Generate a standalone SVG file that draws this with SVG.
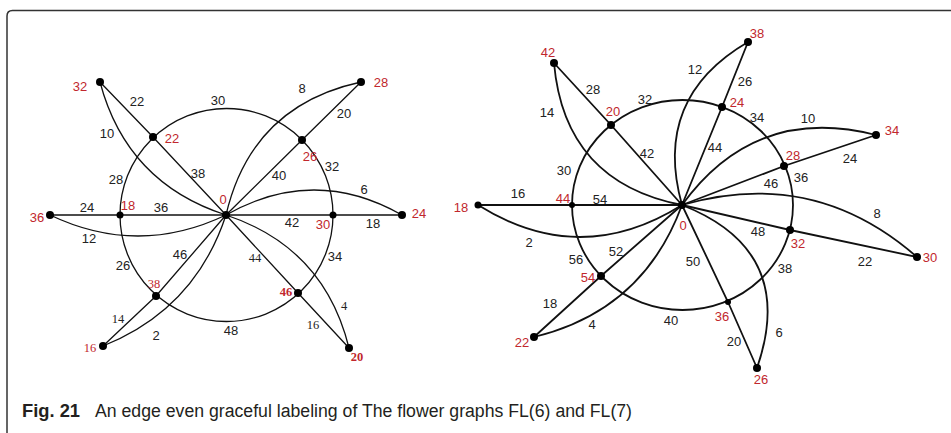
<svg xmlns="http://www.w3.org/2000/svg" width="951" height="433" viewBox="0 0 951 433">
<style>
.e{fill:none;stroke:#111;stroke-width:1.3}
.e2{fill:none;stroke:#111;stroke-width:1.8}
.n{fill:#000}
text{font-family:"Liberation Sans",Arial,sans-serif;font-size:13px;text-anchor:middle}
.k{fill:#222}
.r{fill:#c1272d}
.s{font-family:"Liberation Serif","Times New Roman",serif;font-size:12.5px}
.b{font-weight:bold}
.cap{fill:#231f20;font-size:18px;text-anchor:start}
</style>
<rect width="951" height="433" fill="#fff"/>
<path d="M7,433 L7,16 Q7,10.5 12.5,10.5 L951,10.5" fill="none" stroke="#333" stroke-width="1.5"/>

<g id="connectors-left">
<circle class="e" cx="226.5" cy="215" r="106.5"/>
<path class="e" d="M226,215 L153,137 L100,82"/>
<path class="e" d="M226,215 L302,140 L361,82"/>
<path class="e" d="M226,215 L333,215 L402,215"/>
<path class="e" d="M226,215 L298,293 L349,348"/>
<path class="e" d="M226,215 L156,296 L103,346"/>
<path class="e" d="M226,215 L120,215 L50,215"/>
<path class="e" d="M226,215 Q126.7,182.9 100,82"/>
<path class="e" d="M226,215 Q251.4,105.8 361,82"/>
<path class="e" d="M226,215 Q314,165 402,215"/>
<path class="e" d="M226,215 Q324.3,247.5 349,348"/>
<path class="e" d="M226,215 Q195.1,309.2 103,346"/>
<path class="e" d="M226,215 Q138,257 50,215"/>
</g>

<g id="connectors-right">
<ellipse class="e2" cx="682.5" cy="205" rx="110.5" ry="105"/>
<path class="e2" d="M682,205 L611,125 L554,63"/>
<path class="e2" d="M682,205 L722,107 L748,42"/>
<path class="e2" d="M682,205 L784,166 L876,135"/>
<path class="e2" d="M682,205 L790,230 L917,257"/>
<path class="e2" d="M682,205 L728,302 L757,368"/>
<path class="e2" d="M682,205 L601,276 L534,337"/>
<path class="e2" d="M682,205 L572,205 L478,205"/>
<path class="e2" d="M682,205 Q564.5,182.2 554,63"/>
<path class="e2" d="M682,205 Q652,98 748,42"/>
<path class="e2" d="M682,205 Q755.2,104.1 876,135"/>
<path class="e2" d="M682,205 Q813.8,166.6 917,257"/>
<path class="e2" d="M682,205 Q797.8,250.5 757,368"/>
<path class="e2" d="M682,205 Q643.3,310.6 534,337"/>
<path class="e2" d="M682,205 Q580,269 478,205"/>
</g>

<g id="edge-labels-left" class="k">
<text x="137" y="105.5">22</text><text x="218" y="104.5">30</text><text x="107" y="137.5">10</text>
<text x="198" y="177.5">38</text><text x="116" y="183.5">28</text><text x="87" y="211.5">24</text>
<text x="161" y="211.5">36</text><text x="302" y="92.5">8</text><text x="344" y="117.5">20</text>
<text x="332" y="170.5">32</text><text x="279" y="179.5">40</text><text x="364" y="193.5">6</text>
<text x="292" y="226.5">42</text><text x="373" y="227.5">18</text><text x="89" y="242.5">12</text>
<text x="123" y="269.5">26</text><text x="180" y="258.5">46</text><text x="156" y="339.5">2</text>
<text x="335" y="260.5">34</text><text x="231" y="334.5">48</text>
<text class="s" x="118" y="323">14</text><text class="s" x="255" y="262">44</text>
<text class="s" x="344" y="310">4</text><text class="s" x="313" y="329">16</text>
</g>

<g id="node-0-left"><circle class="n" cx="226" cy="215" r="4"/><text class="r" x="223" y="203.5">0</text></g>
<g id="node-22-left"><circle class="n" cx="153" cy="137" r="4"/><text class="r" x="172" y="142.5">22</text></g>
<g id="node-26-left"><circle class="n" cx="302" cy="140" r="4"/><text class="r" x="310" y="160.5">26</text></g>
<g id="node-30-left"><circle class="n" cx="333" cy="215" r="3.5"/><text class="r" x="323" y="228.5">30</text></g>
<g id="node-46-left"><circle class="n" cx="298" cy="293" r="4"/><text class="r s b" x="286" y="296">46</text></g>
<g id="node-38-left"><circle class="n" cx="156" cy="296" r="4"/><text class="r s" x="154" y="287.5">38</text></g>
<g id="node-18-left"><circle class="n" cx="120" cy="215" r="3.5"/><text class="r" x="128" y="209.5">18</text></g>
<g id="node-32-left"><circle class="n" cx="100" cy="82" r="4"/><text class="r" x="80" y="90.5">32</text></g>
<g id="node-28-left"><circle class="n" cx="361" cy="82" r="4"/><text class="r" x="381" y="86.5">28</text></g>
<g id="node-24-left"><circle class="n" cx="402" cy="215" r="4"/><text class="r" x="419" y="217.5">24</text></g>
<g id="node-20-left"><circle class="n" cx="349" cy="348" r="4"/><text class="r s b" x="357" y="360.5">20</text></g>
<g id="node-16-left"><circle class="n" cx="103" cy="346" r="4"/><text class="r s" x="90" y="351.5">16</text></g>
<g id="node-36-left"><circle class="n" cx="50" cy="215" r="4"/><text class="r" x="37" y="221.5">36</text></g>

<g id="edge-labels-right" class="k">
<text x="593" y="93.5">28</text><text x="547" y="116.5">14</text><text x="645" y="103.5">32</text>
<text x="647" y="157.5">42</text><text x="564" y="174.5">30</text><text x="518" y="197.5">16</text>
<text x="600" y="203.5">54</text><text x="695" y="73.5">12</text><text x="745" y="85.5">26</text>
<text x="757" y="121.5">34</text><text x="808" y="122.5">10</text><text x="715" y="151.5">44</text>
<text x="850" y="162.5">24</text><text x="771" y="187.5">46</text><text x="801" y="181.5">36</text>
<text x="877" y="217.5">8</text><text x="529" y="246.5">2</text><text x="576" y="263.5">56</text>
<text x="616" y="255.5">52</text><text x="550" y="307.5">18</text><text x="592" y="328.5">4</text>
<text x="671" y="324.5">40</text><text x="693" y="265.5">50</text><text x="758" y="235.5">48</text>
<text x="865" y="265.5">22</text><text x="785" y="272.5">38</text><text x="779" y="336.5">6</text>
<text x="734" y="345.5">20</text>
</g>

<g id="node-0-right"><circle class="n" cx="682" cy="205" r="4"/><text class="r" x="683" y="229.5">0</text></g>
<g id="node-20-right"><circle class="n" cx="611" cy="125" r="4"/><text class="r" x="613" y="115.5">20</text></g>
<g id="node-24-right"><circle class="n" cx="722" cy="107" r="4"/><text class="r" x="737" y="106.5">24</text></g>
<g id="node-28-right"><circle class="n" cx="784" cy="166" r="4"/><text class="r" x="793" y="159.5">28</text></g>
<g id="node-32-right"><circle class="n" cx="790" cy="230" r="4"/><text class="r" x="798" y="247.5">32</text></g>
<g id="node-36-right"><circle class="n" cx="728" cy="302" r="3"/><text class="r" x="722" y="320.5">36</text></g>
<g id="node-54-right"><circle class="n" cx="601" cy="276" r="4"/><text class="r" x="588" y="281.5">54</text></g>
<g id="node-44-right"><circle class="n" cx="572" cy="205" r="3"/><text class="r" x="563" y="202.5">44</text></g>
<g id="node-42-right"><circle class="n" cx="554" cy="63" r="4"/><text class="r" x="548" y="56.5">42</text></g>
<g id="node-38-right"><circle class="n" cx="748" cy="42" r="4"/><text class="r" x="757" y="37.5">38</text></g>
<g id="node-34-right"><circle class="n" cx="876" cy="135" r="4"/><text class="r" x="892" y="134.5">34</text></g>
<g id="node-30-right"><circle class="n" cx="917" cy="257" r="4"/><text class="r" x="930" y="261.5">30</text></g>
<g id="node-26-right"><circle class="n" cx="757" cy="368" r="4"/><text class="r" x="761" y="383.5">26</text></g>
<g id="node-22-right"><circle class="n" cx="534" cy="337" r="4"/><text class="r" x="522" y="346.5">22</text></g>
<g id="node-18-right"><circle class="n" cx="478" cy="205" r="3.5"/><text class="r" x="461" y="211.5">18</text></g>

<g id="caption">
<text class="cap b" x="22" y="417" textLength="58" lengthAdjust="spacingAndGlyphs">Fig. 21</text>
<text class="cap" x="95" y="417" textLength="537" lengthAdjust="spacingAndGlyphs">An edge even graceful labeling of The flower graphs FL(6) and FL(7)</text>
</g>
</svg>
